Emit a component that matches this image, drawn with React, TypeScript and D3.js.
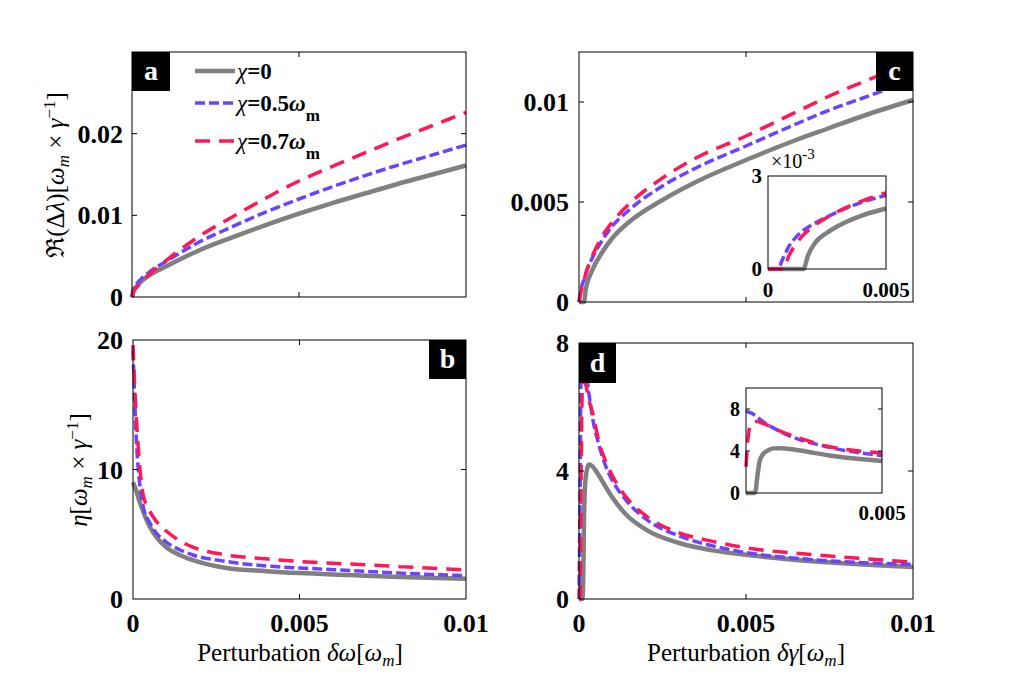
import { useEffect, useRef } from "react";
import * as d3 from "d3";

const W = 1016;
const H = 690;
const GRAY = "#808080";
const BLUE = "#6a42ff";
const RED = "#ff1757";
const SERIF = '"Liberation Serif", "Times New Roman", serif';

// (a) Re(Δλ) vs δω
const xA = [0, 0.00005, 0.0001, 0.0002, 0.0005, 0.001, 0.002, 0.003, 0.004, 0.005, 0.006, 0.007, 0.008, 0.009, 0.01];
const grayA = [0, 0.0008, 0.0011, 0.0016, 0.0026, 0.0037, 0.0057, 0.0073, 0.0088, 0.0102, 0.0115, 0.0127, 0.0139, 0.015, 0.0161];
const blueA = [0, 0.001, 0.0014, 0.0019, 0.003, 0.0043, 0.0067, 0.0086, 0.0104, 0.012, 0.0135, 0.0149, 0.0162, 0.0174, 0.0186];
const redA = [0, 0.0007, 0.001, 0.0015, 0.0027, 0.0044, 0.0074, 0.0098, 0.0121, 0.0142, 0.016, 0.0177, 0.0194, 0.021, 0.0226];

// (b) η vs δω
const xB = [0, 0.00005, 0.0001, 0.00015, 0.0002, 0.0003, 0.0005, 0.0007, 0.001, 0.0014, 0.0018, 0.0028, 0.004, 0.005, 0.0065, 0.008, 0.01];
const grayB = [9.0, 8.7, 8.35, 7.9, 7.5, 6.8, 5.6, 4.8, 4.0, 3.4, 3.0, 2.4, 2.15, 2.0, 1.85, 1.7, 1.57];
const blueB = [19.2, 15.5, 12.3, 10.3, 8.9, 7.2, 5.9, 5.1, 4.4, 3.8, 3.4, 2.9, 2.55, 2.4, 2.2, 2.0, 1.8];
const redB = [19.6, 16.5, 14.0, 12.0, 10.3, 8.1, 6.8, 6.0, 5.25, 4.5, 4.0, 3.4, 3.1, 2.9, 2.7, 2.5, 2.25];

// (c) Re(Δλ) vs δγ, plus inset
const xC = [0, 0.0001, 0.00015, 0.0002, 0.0004, 0.0007, 0.001, 0.0015, 0.0025, 0.0035, 0.005, 0.0065, 0.0075, 0.0085, 0.01];
const grayC = [0, 0, 0, 0.0006, 0.0016, 0.0025, 0.0032, 0.004, 0.0051, 0.006, 0.0071, 0.0081, 0.0087, 0.0093, 0.0101];
const blueC = [0, 0.0009, 0.0011, 0.0014, 0.0022, 0.0031, 0.0038, 0.0046, 0.0058, 0.0067, 0.0078, 0.0089, 0.0096, 0.0102, 0.0111];
const redC = [0, 0.0008, 0.0011, 0.0014, 0.0023, 0.0033, 0.004, 0.0049, 0.0062, 0.0072, 0.0083, 0.0095, 0.0103, 0.011, 0.012];

const xCi = [0, 0.0004, 0.00064, 0.0009, 0.0012, 0.0015, 0.0017, 0.002, 0.0025, 0.003, 0.004, 0.005];
const grayCi = [0, 0, 0, 0, 0, 0, 0.00045, 0.00085, 0.00117, 0.0014, 0.00173, 0.00195];
const blueCi = [0, 0, 0.00035, 0.00075, 0.00104, 0.00125, 0.00135, 0.00148, 0.00168, 0.00186, 0.00216, 0.00238];
const redCi = [0, 0, 0, 0.00045, 0.00082, 0.0011, 0.00124, 0.00142, 0.00166, 0.00187, 0.0022, 0.00246];

// (d) η vs δγ, plus inset
const xD = [0, 0.00003, 0.00006, 0.0001, 0.00013, 0.00015, 0.0002, 0.0003, 0.0004, 0.0006, 0.0008, 0.001, 0.0014, 0.002, 0.003, 0.004, 0.005, 0.007, 0.01];
const grayD = [0, 0, 0, 0, 0.8, 2.5, 3.8, 4.2, 4.15, 3.85, 3.5, 3.17, 2.65, 2.17, 1.75, 1.52, 1.38, 1.18, 1.0];
const blueD = [0, 3.0, 7.0, 7.6, 7.6, 7.5, 7.2, 6.4, 5.7, 4.8, 4.15, 3.7, 3.1, 2.5, 1.97, 1.66, 1.45, 1.23, 1.08];
const redD = [0, 0, 3.5, 6.6, 6.8, 6.8, 6.7, 6.2, 5.85, 4.9, 4.3, 3.85, 3.2, 2.6, 2.07, 1.8, 1.6, 1.39, 1.15];

const xDi = [0, 0.0001, 0.0002, 0.0003, 0.00036, 0.0004, 0.0005, 0.0006, 0.0008, 0.001, 0.0013, 0.0016, 0.002, 0.0025, 0.003, 0.004, 0.005];
const grayDi = [0, 0, 0, 0, 0.3, 1.2, 3.0, 3.6, 4.05, 4.25, 4.27, 4.2, 4.05, 3.82, 3.6, 3.28, 3.05];
const blueDi = [7.8, 7.7, 7.6, 7.45, 7.35, 7.3, 7.05, 6.85, 6.5, 6.2, 5.8, 5.45, 5.05, 4.7, 4.38, 3.9, 3.55];
const redDi = [2.5, 5.8, 6.6, 6.8, 6.82, 6.82, 6.75, 6.65, 6.45, 6.2, 5.85, 5.55, 5.2, 4.8, 4.45, 4.05, 3.8];

const xTicks = [0, 0.005, 0.01];
const xTickLabels = ["0", "0.005", "0.01"];
const yTicksA = [0, 0.01, 0.02];
const yTicksB = [0, 10, 20];
const yTicksC = [0, 0.005, 0.01];
const yTicksD = [0, 4, 8];

const STYLES = [
  { color: GRAY, width: 4.5, dash: null as string | null },
  { color: BLUE, width: 3.5, dash: "10,4" },
  { color: RED, width: 3.5, dash: "15,9" },
];

type Seg = { t: string; it?: boolean; b?: boolean; dy?: number; fs?: number };
type Box = { x0: number; x1: number; y0: number; y1: number };
type Sel = d3.Selection<SVGSVGElement, unknown, null, undefined>;

function rich(parent: Sel, x: number, y: number, segs: Seg[], size: number, opts: { anchor?: string; weight?: string; rotate?: boolean } = {}) {
  const text = parent
    .append("text")
    .style("font-family", SERIF)
    .attr("font-size", size)
    .attr("font-weight", opts.weight ?? "normal")
    .attr("text-anchor", opts.anchor ?? "start")
    .attr("fill", "#000");
  if (opts.rotate) text.attr("transform", `translate(${x},${y}) rotate(-90)`);
  else text.attr("x", x).attr("y", y);
  let shift = 0;
  segs.forEach((s) => {
    const target = s.dy ?? 0;
    const ts = text.append("tspan").text(s.t).attr("dy", target - shift);
    shift = target;
    if (s.it) ts.attr("font-style", "italic");
    if (s.b) ts.attr("font-weight", "bold");
    if (s.fs) ts.attr("font-size", s.fs);
  });
  return text;
}

function frame(svg: Sel, box: Box, x: d3.ScaleLinear<number, number>, y: d3.ScaleLinear<number, number>, xt: number[], yt: number[], len = 5) {
  svg
    .append("rect")
    .attr("x", box.x0)
    .attr("y", box.y0)
    .attr("width", box.x1 - box.x0)
    .attr("height", box.y1 - box.y0)
    .attr("fill", "none")
    .attr("stroke", "#000")
    .attr("stroke-width", 1);
  const g = svg.append("g").attr("stroke", "#000").attr("stroke-width", 1);
  xt.forEach((t) => {
    const px = x(t);
    if (Math.abs(px - box.x0) < 2 || Math.abs(px - box.x1) < 2) return;
    g.append("line").attr("x1", px).attr("x2", px).attr("y1", box.y1).attr("y2", box.y1 - len);
    g.append("line").attr("x1", px).attr("x2", px).attr("y1", box.y0).attr("y2", box.y0 + len);
  });
  yt.forEach((t) => {
    const py = y(t);
    if (Math.abs(py - box.y0) < 2 || Math.abs(py - box.y1) < 2) return;
    g.append("line").attr("x1", box.x0).attr("x2", box.x0 + len).attr("y1", py).attr("y2", py);
    g.append("line").attr("x1", box.x1).attr("x2", box.x1 - len).attr("y1", py).attr("y2", py);
  });
}

function curves(svg: Sel, xs: number[], series: number[][], x: d3.ScaleLinear<number, number>, y: d3.ScaleLinear<number, number>) {
  series.forEach((vals, k) => {
    const st = STYLES[k];
    const line = d3
      .line<number>()
      .x((_, i) => x(xs[i]))
      .y((d) => y(d))
      .curve(d3.curveMonotoneX);
    const p = svg
      .append("path")
      .attr("d", line(vals) ?? "")
      .attr("fill", "none")
      .attr("stroke", st.color)
      .attr("stroke-width", st.width);
    if (st.dash) p.attr("stroke-dasharray", st.dash);
  });
}

function yLabels(svg: Sel, y: d3.ScaleLinear<number, number>, ticks: number[], labels: string[], xRight: number, size: number) {
  ticks.forEach((t, i) => {
    svg
      .append("text")
      .attr("x", xRight)
      .attr("y", y(t))
      .attr("dy", "0.35em")
      .attr("text-anchor", "end")
      .style("font-family", SERIF)
      .attr("font-weight", "bold")
      .attr("font-size", size)
      .text(labels[i]);
  });
}

function xLabels(svg: Sel, x: d3.ScaleLinear<number, number>, ticks: number[], labels: string[], yMid: number, size: number) {
  ticks.forEach((t, i) => {
    svg
      .append("text")
      .attr("x", x(t))
      .attr("y", yMid)
      .attr("dy", "0.35em")
      .attr("text-anchor", "middle")
      .style("font-family", SERIF)
      .attr("font-weight", "bold")
      .attr("font-size", size)
      .text(labels[i]);
  });
}

function tag(svg: Sel, x: number, y: number, w: number, h: number, letter: string) {
  svg.append("rect").attr("x", x).attr("y", y).attr("width", w).attr("height", h).attr("fill", "#000");
  svg
    .append("text")
    .attr("x", x + w / 2)
    .attr("y", y + h / 2)
    .attr("dy", "0.32em")
    .attr("text-anchor", "middle")
    .style("font-family", SERIF)
    .attr("font-weight", "bold")
    .attr("font-size", 28)
    .attr("fill", "#fff")
    .text(letter);
}

export default function App() {
  const ref = useRef<SVGSVGElement | null>(null);

  useEffect(() => {
    const el = ref.current;
    if (!el) return;
    const svg = d3.select(el) as Sel;
    svg.selectAll("*").remove();

    const fmt = (d: number) => String(d);

    // ---- panel a
    const boxA = { x0: 132, x1: 466, y0: 52, y1: 297 };
    const xa = d3.scaleLinear().domain([0, 0.01]).range([boxA.x0, boxA.x1]);
    const ya = d3.scaleLinear().domain([0, 0.03]).range([boxA.y1, boxA.y0]);
    curves(svg, xA, [grayA, blueA, redA], xa, ya);
    frame(svg, boxA, xa, ya, xTicks, yTicksA);
    yLabels(svg, ya, yTicksA, yTicksA.map(fmt), 123, 26);
    tag(svg, 132, 52, 38, 39, "a");

    // legend
    const legendRows: Seg[][] = [
      [{ t: "χ", it: true }, { t: "=0", b: true }],
      [{ t: "χ", it: true }, { t: "=0.5", b: true }, { t: "ω", it: true, b: true }, { t: "m", b: true, fs: 17, dy: 10 }],
      [{ t: "χ", it: true }, { t: "=0.7", b: true }, { t: "ω", it: true, b: true }, { t: "m", b: true, fs: 17, dy: 10 }],
    ];
    const legendY = [71, 103, 141];
    legendRows.forEach((segs, k) => {
      const st = STYLES[k];
      const l = svg
        .append("line")
        .attr("x1", 195)
        .attr("x2", 235)
        .attr("y1", legendY[k])
        .attr("y2", legendY[k])
        .attr("stroke", st.color)
        .attr("stroke-width", st.width);
      if (st.dash) l.attr("stroke-dasharray", st.dash);
      rich(svg, 237, legendY[k] + 8, segs, 23);
    });

    rich(
      svg,
      64,
      175,
      [
        { t: "ℜ(Δ" },
        { t: "λ", it: true },
        { t: ")[" },
        { t: "ω", it: true },
        { t: "m", it: true, fs: 17, dy: 5 },
        { t: " × " },
        { t: "γ", it: true },
        { t: "−1", fs: 17, dy: -9 },
        { t: "]" },
      ],
      25,
      { anchor: "middle", rotate: true }
    );

    // ---- panel b
    const boxB = { x0: 133, x1: 466, y0: 340, y1: 599 };
    const xb = d3.scaleLinear().domain([0, 0.01]).range([boxB.x0, boxB.x1]);
    const yb = d3.scaleLinear().domain([0, 20]).range([boxB.y1, boxB.y0]);
    curves(svg, xB, [grayB, blueB, redB], xb, yb);
    frame(svg, boxB, xb, yb, xTicks, yTicksB);
    yLabels(svg, yb, yTicksB, yTicksB.map(fmt), 123, 26);
    xLabels(svg, xb, xTicks, xTickLabels, 623, 26);
    tag(svg, 429, 340, 37, 39, "b");
    rich(
      svg,
      87,
      470,
      [
        { t: "η", it: true },
        { t: "[" },
        { t: "ω", it: true },
        { t: "m", it: true, fs: 17, dy: 5 },
        { t: " × " },
        { t: "γ", it: true },
        { t: "−1", fs: 17, dy: -9 },
        { t: "]" },
      ],
      25,
      { anchor: "middle", rotate: true }
    );
    rich(
      svg,
      300,
      661,
      [{ t: "Perturbation " }, { t: "δω", it: true }, { t: "[" }, { t: "ω", it: true }, { t: "m", it: true, fs: 17, dy: 5 }, { t: "]", dy: 0 }],
      25,
      { anchor: "middle" }
    );

    // ---- panel c
    const boxC = { x0: 579, x1: 913, y0: 52, y1: 302 };
    const xc = d3.scaleLinear().domain([0, 0.01]).range([boxC.x0, boxC.x1]);
    const yc = d3.scaleLinear().domain([0, 0.0125]).range([boxC.y1, boxC.y0]);
    curves(svg, xC, [grayC, blueC, redC], xc, yc);
    frame(svg, boxC, xc, yc, xTicks, yTicksC);
    yLabels(svg, yc, yTicksC, yTicksC.map(fmt), 569, 26);
    tag(svg, 876, 52, 37, 39, "c");

    const boxCi = { x0: 768, x1: 886, y0: 176, y1: 269 };
    svg
      .append("rect")
      .attr("x", boxCi.x0)
      .attr("y", boxCi.y0)
      .attr("width", boxCi.x1 - boxCi.x0)
      .attr("height", boxCi.y1 - boxCi.y0)
      .attr("fill", "#fff");
    const xci = d3.scaleLinear().domain([0, 0.005]).range([boxCi.x0, boxCi.x1]);
    const yci = d3.scaleLinear().domain([0, 0.003]).range([boxCi.y1, boxCi.y0]);
    curves(svg, xCi, [grayCi, blueCi, redCi], xci, yci);
    frame(svg, boxCi, xci, yci, [], []);
    yLabels(svg, yci, [0, 0.003], ["0", "3"], 762, 21);
    xLabels(svg, xci, [0, 0.005], ["0", "0.005"], 290, 21);
    rich(svg, 771, 168, [{ t: "×10" }, { t: "-3", fs: 15, dy: -9 }], 20);

    // ---- panel d
    const boxD = { x0: 579, x1: 913, y0: 343, y1: 599 };
    const xd = d3.scaleLinear().domain([0, 0.01]).range([boxD.x0, boxD.x1]);
    const yd = d3.scaleLinear().domain([0, 8]).range([boxD.y1, boxD.y0]);
    curves(svg, xD, [grayD, blueD, redD], xd, yd);
    frame(svg, boxD, xd, yd, xTicks, yTicksD);
    yLabels(svg, yd, yTicksD, yTicksD.map(fmt), 569, 26);
    xLabels(svg, xd, xTicks, xTickLabels, 623, 26);
    tag(svg, 579, 343, 37, 40, "d");
    rich(
      svg,
      746,
      661,
      [{ t: "Perturbation " }, { t: "δγ", it: true }, { t: "[" }, { t: "ω", it: true }, { t: "m", it: true, fs: 17, dy: 5 }, { t: "]", dy: 0 }],
      25,
      { anchor: "middle" }
    );

    const boxDi = { x0: 746, x1: 882, y0: 388, y1: 493 };
    svg
      .append("rect")
      .attr("x", boxDi.x0)
      .attr("y", boxDi.y0)
      .attr("width", boxDi.x1 - boxDi.x0)
      .attr("height", boxDi.y1 - boxDi.y0)
      .attr("fill", "#fff");
    const xdi = d3.scaleLinear().domain([0, 0.005]).range([boxDi.x0, boxDi.x1]);
    const ydi = d3.scaleLinear().domain([0, 10]).range([boxDi.y1, boxDi.y0]);
    curves(svg, xDi, [grayDi, blueDi, redDi], xdi, ydi);
    frame(svg, boxDi, xdi, ydi, [], [4, 8], 4);
    yLabels(svg, ydi, [0, 4, 8], ["0", "4", "8"], 740, 20);
    xLabels(svg, xdi, [0.005], ["0.005"], 513, 21);
  }, []);

  return <svg ref={ref} width={W} height={H} style={{ position: "absolute", left: 0, top: 0, background: "#fff" }} />;
}
